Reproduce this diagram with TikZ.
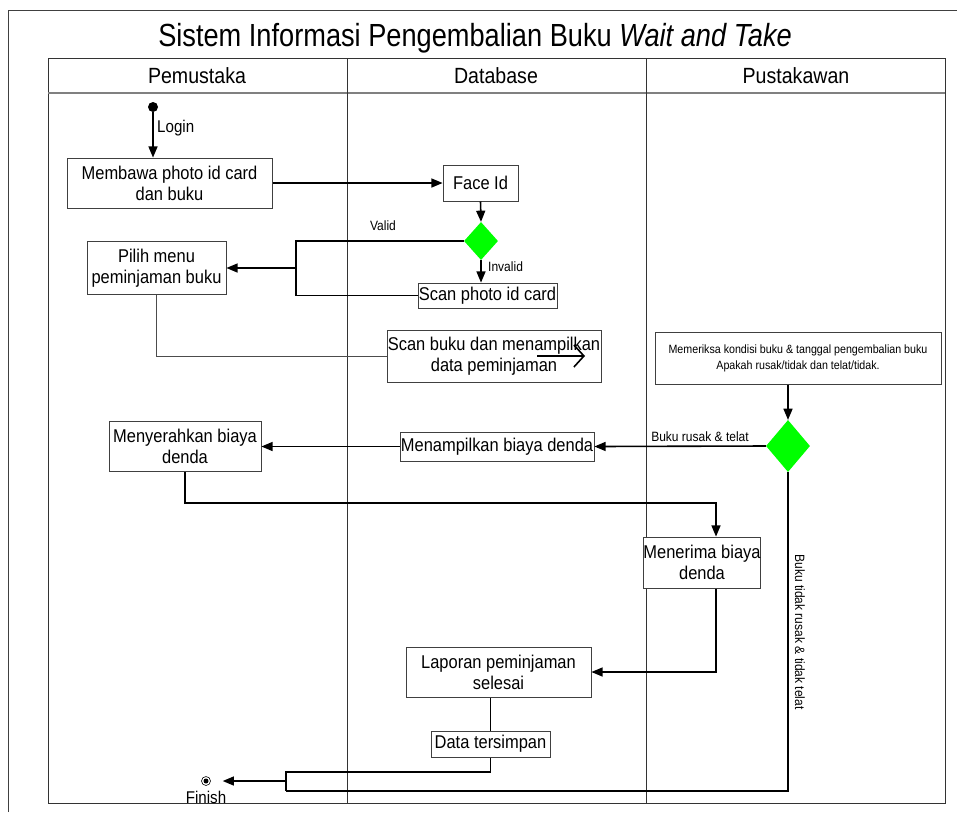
\documentclass[tikz,border=0pt]{standalone}
\usepackage{fontspec}
\setmainfont[FakeStretch=0.89]{Liberation Sans}
\newfontfamily\titlefont[FakeStretch=0.85]{Liberation Sans}
\usetikzlibrary{arrows,arrows.meta,shapes.geometric}

\begin{document}
\begin{tikzpicture}[x=1pt,y=-1pt]
\tikzstyle{every node}=[inner sep=0pt, font=\fontsize{18.5}{21}\selectfont]
\tikzstyle{act}=[draw=black!75, line width=1pt, fill=white, rectangle, align=center]
\tikzstyle{dec}=[diamond, fill=green, inner sep=0pt]
\tikzstyle{flow}=[line width=1.6pt, -triangle 45]
\tikzstyle{link}=[line width=1.6pt]
\tikzstyle{lbl}=[font=\fontsize{13.5}{15}\selectfont]
\tikzstyle{lane}=[font=\fontsize{22}{24}\selectfont]
\useasboundingbox (0,0) rectangle (957,812);
\draw[black!75, line width=1pt] (8,812) -- (8,10) -- (957,10);
\draw[black!80, line width=1pt] (48,58) rectangle (945,803);
\draw[gray, line width=1.5pt] (48,93) -- (945,93);
\draw[black!80, line width=1pt] (347,58) -- (347,803);
\draw[black!80, line width=1pt] (646,58) -- (646,803);
\draw (475,38) node (title) [font=\titlefont\fontsize{32}{36}\selectfont] {Sistem Informasi Pengembalian Buku \textit{Wait and Take}};
\draw (197,76) node (lane1) [lane] {Pemustaka};
\draw (496,76) node (lane2) [lane] {Database};
\draw (796,76) node (lane3) [lane] {Pustakawan};
\draw (153,107) node (start) [circle, fill, minimum size=10pt] {};
\draw (169.5,183) node (membawa) [act, minimum width=205pt, minimum height=50pt] {Membawa photo id card\\dan buku};
\draw (480.5,183) node (faceid) [act, minimum width=75pt, minimum height=36pt] {Face Id};
\draw (481,241) node (cek1) [dec, minimum width=34pt, minimum height=38pt] {};
\draw (156.5,268) node (pilih) [act, minimum width=139pt, minimum height=53pt] {Pilih menu\\peminjaman buku};
\draw (487.5,295.5) node (scanid) [act, minimum width=139pt, minimum height=25pt] {Scan photo id card};
\draw (494,356) node (scanbuku) [act, minimum width=214pt, minimum height=52pt] {Scan buku dan menampilkan\\data peminjaman};
\draw (798,358) node (periksa) [act, minimum width=286pt, minimum height=52pt, font=\fontsize{12}{16}\selectfont] {Memeriksa kondisi buku \& tanggal pengembalian buku\\Apakah rusak/tidak dan telat/tidak.};
\draw (788,446) node (cek2) [dec, minimum width=44pt, minimum height=52pt] {};
\draw (497,446.5) node (tampil) [act, minimum width=194pt, minimum height=29pt] {Menampilkan biaya denda};
\draw (185,446.5) node (serah) [act, minimum width=152pt, minimum height=50pt] {Menyerahkan biaya\\denda};
\draw (702,562.5) node (terima) [act, minimum width=108pt, minimum height=51pt] {Menerima biaya\\denda};
\draw (498.5,672) node (laporan) [act, minimum width=185pt, minimum height=50pt] {Laporan peminjaman\\selesai};
\draw (490.5,744) node (simpan) [act, minimum width=119pt, minimum height=26pt] {Data tersimpan};
\draw (206,781) node (finish) [circle, draw, line width=0.6pt, minimum size=9pt] {};
\fill (finish) circle (2.5);
\draw (206,797) node (finishtxt) [font=\fontsize{17}{18}\selectfont] {Finish};
\coordinate (jv) at (296,268);
\coordinate (t1) at (716,503);
\coordinate (m1) at (286,772);
\coordinate (m2) at (286,791);
\coordinate (m3) at (286,781);
\coordinate (s1) at (537,356);
\coordinate (s2) at (585,356);
\draw[flow] (start) -- (start |- membawa.north);
\draw (157,128) node (login) [anchor=west, font=\fontsize{17}{18}\selectfont] {Login};
\draw[flow] (membawa.east) -- (faceid.west);
\draw[flow] (faceid.south) -- (cek1.north);
\draw[flow] (cek1.west) -| (jv) -- (pilih.east);
\draw (383,226) node (valid) [lbl] {Valid};
\draw[flow] (cek1.south) -- (scanid.north -| cek1.south);
\draw (488,267) node (invalid) [lbl, anchor=west] {Invalid};
\draw[link] (scanid.west) -| (jv);
\draw[black!70, line width=0.8pt] (pilih.south) |- (scanbuku.west);
\draw[line width=1.6pt, -{Straight Barb[length=10pt,width=22pt]}] (s1) -- (s2);
\draw[flow] (cek2.north |- periksa.south) -- (cek2.north);
\draw[flow] (cek2.west) -- (tampil.east);
\draw (700,437) node (rusak) [lbl] {Buku rusak \& telat};
\draw[flow] (tampil.west) -- (serah.east);
\draw[flow] (serah.south) |- (t1) -- (t1 |- terima.north);
\draw[flow] (t1 |- terima.south) |- (laporan.east);
\draw[link] (simpan.north |- laporan.south) -- (simpan.north);
\draw[link] (simpan.south) |- (m1) -- (m2);
\draw[link] (cek2.south) |- (m2);
\draw[flow, shorten >=12pt] (m3) -- (finish.east);
\draw (800,632) node (tidak) [lbl, rotate=-90] {Buku tidak rusak \& tidak telat};
\end{tikzpicture}
\end{document}
